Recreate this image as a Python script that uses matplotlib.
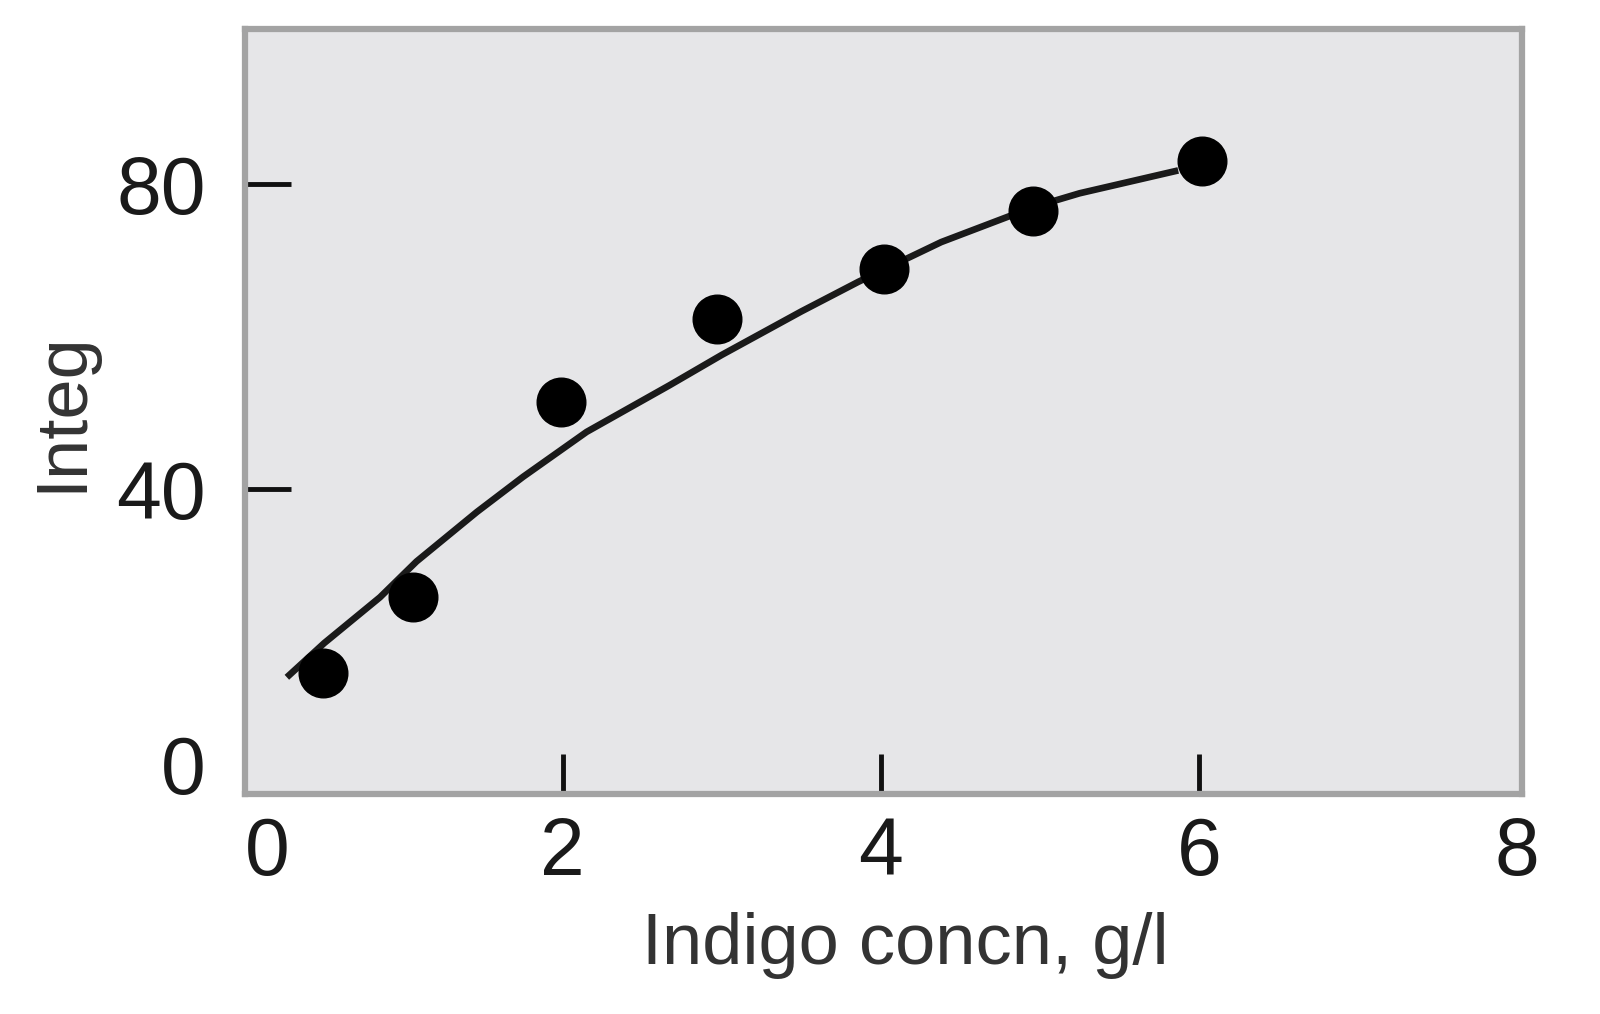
import matplotlib
matplotlib.use('Agg')
import matplotlib.pyplot as plt

plt.rcParams['font.family'] = ['Liberation Sans Narrow', 'Liberation Sans', 'DejaVu Sans']

# Measured points
conc = [0.49, 1.06, 1.99, 2.97, 4.02, 4.96, 6.02]
integ = [15.9, 25.8, 51.4, 62.3, 68.9, 76.5, 83.0]

# Fitted curve
fit_x = [0.28, 0.50, 0.85, 1.08, 1.46, 1.75, 2.15, 2.67, 3.0, 3.5, 3.86, 4.38, 4.96, 5.25, 5.85]
fit_y = [15.6, 19.8, 25.8, 30.5, 37.0, 41.6, 47.5, 53.6, 57.6, 63.3, 67.2, 72.4, 77.0, 78.8, 81.7]

major_x = [2, 4, 6]
edge_x = [0, 8]
major_y = [40, 80]
edge_y = [0]

fig = plt.figure(figsize=(16, 10.14), dpi=100)
ax = fig.add_axes([0.153, 0.217, 0.798, 0.754])
ax.set_facecolor('#e6e6e8')

ax.plot(fit_x, fit_y, color='#1a1a1a', lw=4.8, solid_joinstyle='round', zorder=2)
ax.plot(conc, integ, 'o', color='black', ms=35, zorder=3)

ax.set_xlim(0, 8.03)
ax.set_ylim(0, 100.3)

ax.set_xticks(major_x, labels=[str(v) for v in major_x])
ax.set_xticks(edge_x, labels=[str(v) for v in edge_x], minor=True)
ax.set_yticks(major_y, labels=[str(v) for v in major_y])
ax.set_yticks(edge_y, labels=[str(v) for v in edge_y], minor=True)

ax.tick_params(axis='x', which='major', direction='in', length=29, width=3.5,
               color='#111111', labelsize=58, pad=16, labelcolor='#1a1a1a')
ax.tick_params(axis='y', which='major', direction='in', length=33, width=3.5,
               color='#111111', labelsize=58, pad=28, labelcolor='#1a1a1a')
ax.tick_params(axis='x', which='minor', length=0, labelsize=58, pad=16, labelcolor='#1a1a1a')
ax.tick_params(axis='y', which='minor', length=0, labelsize=58, pad=28, labelcolor='#1a1a1a')

# edge labels sit inside the box, like the original
for lab in ax.xaxis.get_minorticklabels():
    if lab.get_text() == '0':
        lab.set_horizontalalignment('left')
for lab in ax.yaxis.get_minorticklabels():
    lab.set_verticalalignment('baseline')

for s in ax.spines.values():
    s.set_color('#a3a3a3')
    s.set_linewidth(4.5)

ax.set_xlabel('Indigo concn, g/l', fontsize=52, color='#333333')
ax.xaxis.set_label_coords(0.517, -0.155)
ax.set_ylabel('Integ', fontsize=52, color='#333333')
ax.yaxis.set_label_coords(-0.116, 0.5)

fig.savefig('out.png', dpi=100)
